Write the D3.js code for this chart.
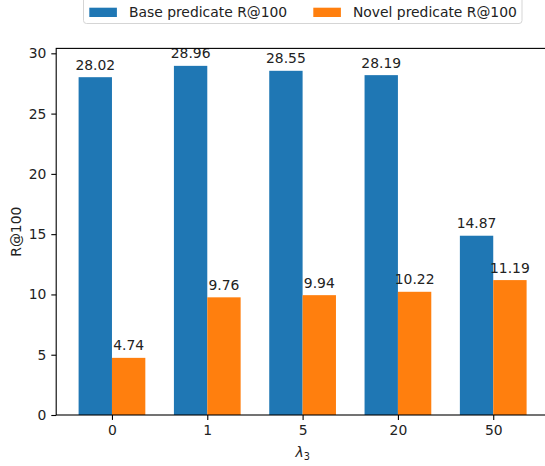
<!DOCTYPE html>
<html>
<head>
<meta charset="utf-8">
<script src="https://cdn.jsdelivr.net/npm/d3@7"></script>
<style>
  body { margin: 0; background: #fff; }
  svg { display: block; font-family: "DejaVu Sans", sans-serif; }
</style>
</head>
<body>
<svg id="chart" width="545" height="466"></svg>
<script>
// values
let lambdas = ["0", "1", "5", "20", "50"];
let baseRecall = [28.02, 28.96, 28.55, 28.19, 14.87];
let novelRecall = [4.74, 9.76, 9.94, 10.22, 11.19];
let yTicks = [0, 5, 10, 15, 20, 25, 30];
let seriesNames = ["Base predicate R@100", "Novel predicate R@100"];
let seriesColors = ["#1f77b4", "#ff7f0e"];

let barWidth = 0.35;
let margin = { top: 48.4, left: 56.2, bottom: 415, right: 549 };

let svg = d3.select("#chart");

// matplotlib-like 5% padding on both axes
let xLo = -barWidth, xHi = lambdas.length - 1 + barWidth;
let xPad = (xHi - xLo) * 0.05;
let x = d3.scaleLinear()
    .domain([xLo - xPad, xHi + xPad])
    .range([margin.left, margin.right]);

let yMax = d3.max(baseRecall.concat(novelRecall)) * 1.05;
let y = d3.scaleLinear()
    .domain([0, yMax])
    .range([margin.bottom, margin.top]);

let plot = svg.append("g");

let series = [baseRecall, novelRecall];
series.forEach(function(values, s) {
    let offset = s === 0 ? -barWidth : 0;
    plot.selectAll(".bar" + s)
        .data(values)
        .enter()
        .append("rect")
        .attr("x", (d, i) => x(i + offset))
        .attr("width", (d, i) => x(i + offset + barWidth) - x(i + offset))
        .attr("y", d => y(d))
        .attr("height", d => y(0) - y(d))
        .attr("fill", seriesColors[s]);

    plot.selectAll(".label" + s)
        .data(values)
        .enter()
        .append("text")
        .attr("x", (d, i) => x(i + offset + barWidth / 2))
        .attr("y", d => y(d) - 7.5)
        .attr("text-anchor", "middle")
        .attr("font-size", "13.9px")
        .attr("fill", "#222")
        .text(d => d.toFixed(2));
});

// axes
let xAxis = d3.axisBottom(x)
    .tickValues(d3.range(lambdas.length))
    .tickFormat(i => lambdas[i])
    .tickSize(4.9)
    .tickPadding(4.9);

let yAxis = d3.axisLeft(y)
    .tickValues(yTicks)
    .tickSize(4.9)
    .tickPadding(4.9);

let gx = svg.append("g")
    .attr("transform", "translate(0," + margin.bottom + ")")
    .call(xAxis);
let gy = svg.append("g")
    .attr("transform", "translate(" + margin.left + ",0)")
    .call(yAxis);

[gx, gy].forEach(function(g) {
    g.select(".domain").remove();
    g.selectAll("line").attr("stroke", "#000").attr("stroke-width", 1.1);
    g.selectAll("text")
        .attr("font-size", "13.9px")
        .attr("fill", "#222")
        .attr("font-family", "DejaVu Sans, sans-serif");
});

// frame
svg.append("rect")
    .attr("x", margin.left)
    .attr("y", margin.top)
    .attr("width", margin.right - margin.left)
    .attr("height", margin.bottom - margin.top)
    .attr("fill", "none")
    .attr("stroke", "#000")
    .attr("stroke-width", 1.1);

// axis titles
let xLabel = svg.append("text")
    .attr("x", (margin.left + margin.right) / 2)
    .attr("y", 457)
    .attr("text-anchor", "middle")
    .attr("font-size", "13.9px")
    .attr("fill", "#222");
xLabel.append("tspan").attr("font-style", "italic").text("λ");
xLabel.append("tspan").attr("font-size", "9.7px").attr("dy", 3).text("3");

svg.append("text")
    .attr("transform", "translate(21," + (margin.top + margin.bottom) / 2 + ") rotate(-90)")
    .attr("text-anchor", "middle")
    .attr("font-size", "13.9px")
    .attr("fill", "#222")
    .text("R@100");

// legend
let legend = svg.append("g");
legend.append("rect")
    .attr("x", 83.5)
    .attr("y", -4)
    .attr("width", 438.5)
    .attr("height", 27.5)
    .attr("rx", 3)
    .attr("fill", "#fff")
    .attr("fill-opacity", 0.8)
    .attr("stroke", "#d5d5d5")
    .attr("stroke-width", 1);

let legendX = [89.3, 313.3];
seriesNames.forEach(function(name, s) {
    legend.append("rect")
        .attr("x", legendX[s])
        .attr("y", 7.7)
        .attr("width", 27.6)
        .attr("height", 9.3)
        .attr("fill", seriesColors[s]);
    legend.append("text")
        .attr("x", legendX[s] + 39.6)
        .attr("y", 16.6)
        .attr("font-size", "13.9px")
        .attr("fill", "#222")
        .text(name);
});
</script>
</body>
</html>
